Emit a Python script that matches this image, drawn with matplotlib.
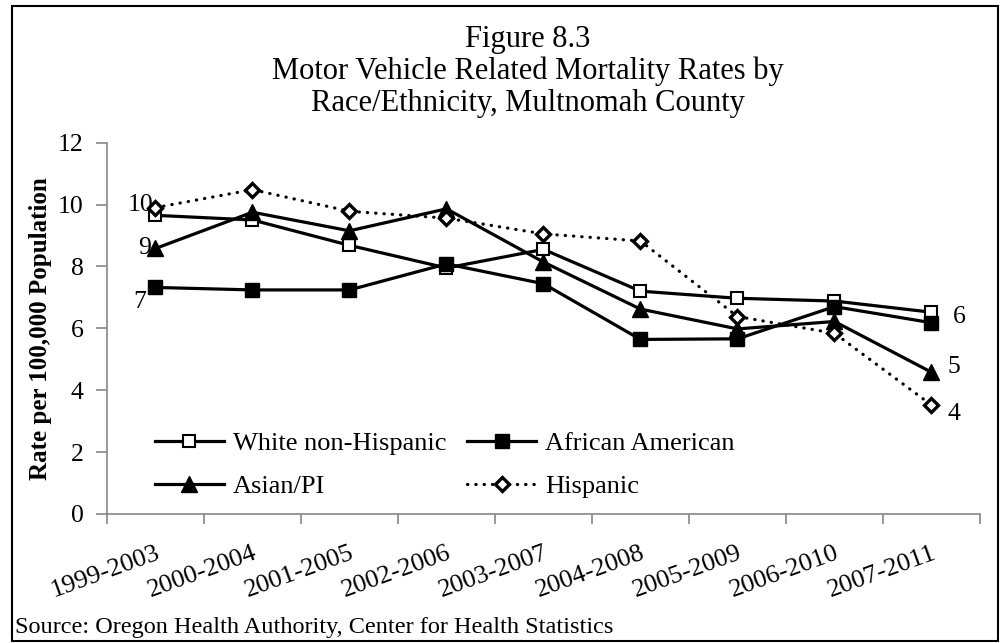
import matplotlib.pyplot as plt
from matplotlib.patches import Rectangle

plt.rcParams['font.family'] = ['Liberation Serif', 'DejaVu Serif']

# Data
periods = ['1999-2003', '2000-2004', '2001-2005', '2002-2006', '2003-2007',
           '2004-2008', '2005-2009', '2006-2010', '2007-2011']
white = [9.65, 9.5, 8.68, 7.95, 8.55, 7.2, 6.97, 6.88, 6.52]
african_american = [7.32, 7.24, 7.24, 8.08, 7.44, 5.64, 5.66, 6.7, 6.18]
asian_pi = [8.58, 9.75, 9.15, 9.86, 8.14, 6.62, 5.98, 6.22, 4.58]
hispanic = [9.9, 10.48, 9.78, 9.56, 9.05, 8.82, 6.38, 5.84, 3.52]

title_lines = ['Figure 8.3', 'Motor Vehicle Related Mortality Rates by',
               'Race/Ethnicity, Multnomah County']
source = 'Source: Oregon Health Authority, Center for Health Statistics'

W, H = 1004, 643
fig = plt.figure(figsize=(W / 100, H / 100), dpi=100)
ax = fig.add_axes([107 / W, 1 - 514 / H, 873 / W, (514 - 142.6) / H])

x = list(range(len(periods)))
lw = 2.3
l_white, = ax.plot(x, white, color='black', lw=lw, marker='s', ms=9,
                   mfc='white', mec='black', mew=1.5, label='White non-Hispanic')
l_aa, = ax.plot(x, african_american, color='black', lw=lw, marker='s', ms=10,
                mfc='black', mec='black', label='African American')
l_asian, = ax.plot(x, asian_pi, color='black', lw=lw, marker='^', ms=11,
                   mfc='black', mec='black', label='Asian/PI')
l_hisp, = ax.plot(x, hispanic, color='black', lw=lw, linestyle=(0, (0.1, 2.5)),
                  dash_capstyle='round', marker='D', ms=7.5, mfc='white',
                  mec='black', mew=2.4, label='Hispanic')

# data labels at first and last points
def label(series, i, txt, dx, dy, ha):
    ax.annotate(txt, (i, series[i]), xytext=(dx, dy), textcoords='offset pixels',
                ha=ha, va='center', fontsize=18.5)

label(hispanic, 0, '10', -2, 3, 'right')
label(asian_pi, 0, '9', -4, 0, 'right')
label(african_american, 0, '7', -9, -15, 'right')
label(african_american, 8, '6', 21, 6, 'left')
label(asian_pi, 8, '5', 16, 5, 'left')
label(hispanic, 8, '4', 16, -9, 'left')

ax.set_xlim(-0.5, len(periods) - 0.5)
ax.set_ylim(0, 12)
ax.set_yticks([0, 2, 4, 6, 8, 10, 12])
ax.set_xticks(x)
ax.set_xticklabels(periods, rotation=20, ha='right', va='top',
                   rotation_mode='anchor')
ax.set_xticks([i - 0.5 for i in range(len(periods) + 1)], minor=True)
ax.tick_params(axis='x', which='major', length=0, pad=20, labelsize=19)
ax.tick_params(axis='x', which='minor', length=7, width=1.2, color='#888888')
ax.tick_params(axis='y', length=8, width=1.2, color='#888888', pad=9,
               labelsize=18.5)
for side in ['top', 'right']:
    ax.spines[side].set_visible(False)
for side in ['left', 'bottom']:
    ax.spines[side].set_color('#888888')
    ax.spines[side].set_linewidth(1.2)

ax.set_ylabel('Rate per 100,000 Population', fontsize=18, fontweight='bold',
              labelpad=4)

# legend fills column-wise, so order for rows: White | AA, Asian | Hispanic
ax.legend(handles=[l_white, l_asian, l_aa, l_hisp], ncol=2, frameon=False,
          fontsize=19, loc='upper left', bbox_to_anchor=(155 / W, 1 - 432 / H),
          bbox_transform=fig.transFigure, borderpad=0, borderaxespad=0,
          handlelength=2.6, handletextpad=0.35, columnspacing=0.8,
          labelspacing=0.72)

for k, line in enumerate(title_lines):
    fig.text(528 / W, 1 - (39 + 32 * k) / H, line, ha='center', va='center',
             fontsize=22)

fig.text(15 / W, 1 - 627 / H, source, ha='left', va='center', fontsize=17.5)

fig.patches.append(Rectangle((12 / W, 2 / H), 986 / W, 1 - 8 / H,
                             transform=fig.transFigure, fill=False,
                             edgecolor='black', lw=1.5))

fig.savefig('out.png', dpi=100)
